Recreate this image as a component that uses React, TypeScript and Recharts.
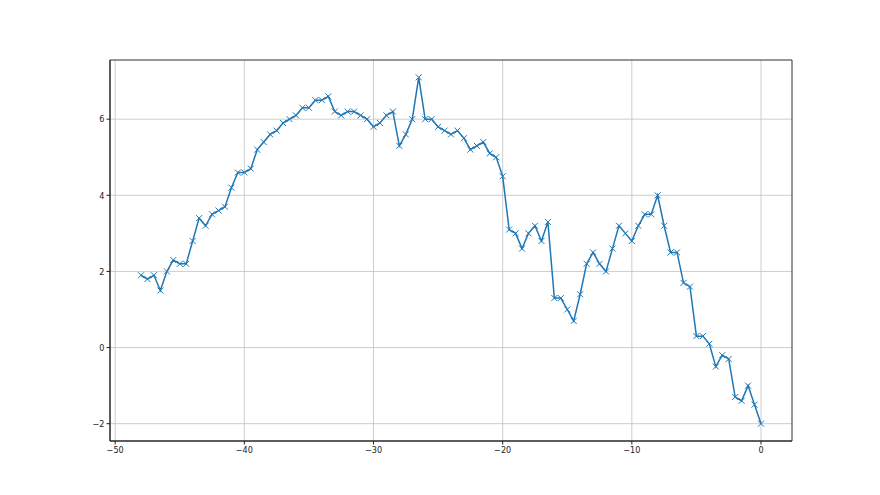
import { LineChart, Line, XAxis, YAxis, CartesianGrid, ReferenceArea } from 'recharts'

const xValues = [
  -48, -47.5, -47, -46.5, -46, -45.5, -45, -44.5, -44, -43.5, -43, -42.5, -42, -41.5, -41, -40.5,
  -40, -39.5, -39, -38.5, -38, -37.5, -37, -36.5, -36, -35.5, -35, -34.5, -34, -33.5, -33, -32.5,
  -32, -31.5, -31, -30.5, -30, -29.5, -29, -28.5, -28, -27.5, -27, -26.5, -26, -25.5, -25, -24.5,
  -24, -23.5, -23, -22.5, -22, -21.5, -21, -20.5, -20, -19.5, -19, -18.5, -18, -17.5, -17, -16.5,
  -16, -15.5, -15, -14.5, -14, -13.5, -13, -12.5, -12, -11.5, -11, -10.5, -10, -9.5, -9, -8.5,
  -8, -7.5, -7, -6.5, -6, -5.5, -5, -4.5, -4, -3.5, -3, -2.5, -2, -1.5, -1, -0.5, 0,
]

const yValues = [
  1.9, 1.8, 1.9, 1.5, 2.0, 2.3, 2.2, 2.2, 2.8, 3.4, 3.2, 3.5, 3.6, 3.7, 4.2, 4.6,
  4.6, 4.7, 5.2, 5.4, 5.6, 5.7, 5.9, 6.0, 6.1, 6.3, 6.3, 6.5, 6.5, 6.6, 6.2, 6.1,
  6.2, 6.2, 6.1, 6.0, 5.8, 5.9, 6.1, 6.2, 5.3, 5.6, 6.0, 7.1, 6.0, 6.0, 5.8, 5.7,
  5.6, 5.7, 5.5, 5.2, 5.3, 5.4, 5.1, 5.0, 4.5, 3.1, 3.0, 2.6, 3.0, 3.2, 2.8, 3.3,
  1.3, 1.3, 1.0, 0.7, 1.4, 2.2, 2.5, 2.2, 2.0, 2.6, 3.2, 3.0, 2.8, 3.2, 3.5, 3.5,
  4.0, 3.2, 2.5, 2.5, 1.7, 1.6, 0.3, 0.3, 0.1, -0.5, -0.2, -0.3, -1.3, -1.4, -1.0, -1.5, -2.0,
]

const xTicks = [-50, -40, -30, -20, -10, 0]
const yTicks = [-2, 0, 2, 4, 6]

const data = xValues.map((x, i) => ({ x, y: yValues[i] }))

const X_DOMAIN: [number, number] = [-50.4, 2.4]
const Y_DOMAIN: [number, number] = [-2.455, 7.555]
const LINE_COLOR = '#1f77b4'
const FONT = '"DejaVu Sans Condensed", "Liberation Sans Narrow", "DejaVu Sans", sans-serif'

const fmt = (v: number) => String(v).replace('-', '\u2212')

function XMarker({ cx, cy }: any) {
  if (cx == null || cy == null) return null
  const r = 3
  return (
    <path
      d={`M${cx - r},${cy - r}L${cx + r},${cy + r}M${cx - r},${cy + r}L${cx + r},${cy - r}`}
      stroke={LINE_COLOR}
      strokeWidth={1}
      fill="none"
    />
  )
}

export default function App() {
  const tick = { fontSize: 9, fill: '#222', fontFamily: FONT }
  return (
    <div style={{ width: 880, height: 495, background: '#fff' }}>
      <style>{'body{margin:0}'}</style>
      <LineChart width={880} height={495} data={data} margin={{ top: 60, right: 88, bottom: 24, left: 80 }}>
        <CartesianGrid stroke="#c0c0c0" strokeWidth={0.8} />
        <XAxis
          dataKey="x"
          type="number"
          domain={X_DOMAIN}
          ticks={xTicks}
          allowDataOverflow
          tickFormatter={fmt}
          tick={tick}
          tickSize={3.5}
          tickMargin={2}
          stroke="#222"
          height={30}
        />
        <YAxis
          type="number"
          domain={Y_DOMAIN}
          ticks={yTicks}
          allowDataOverflow
          tickFormatter={fmt}
          tick={tick}
          tickSize={3.5}
          tickMargin={2}
          stroke="#222"
          width={30}
        />
        <ReferenceArea
          x1={X_DOMAIN[0]}
          x2={X_DOMAIN[1]}
          y1={Y_DOMAIN[0]}
          y2={Y_DOMAIN[1]}
          fill="none"
          stroke="#222"
          strokeWidth={0.8}
          ifOverflow="extendDomain"
        />
        <Line
          dataKey="y"
          stroke={LINE_COLOR}
          strokeWidth={1.5}
          dot={<XMarker />}
          activeDot={false}
          isAnimationActive={false}
        />
      </LineChart>
    </div>
  )
}
